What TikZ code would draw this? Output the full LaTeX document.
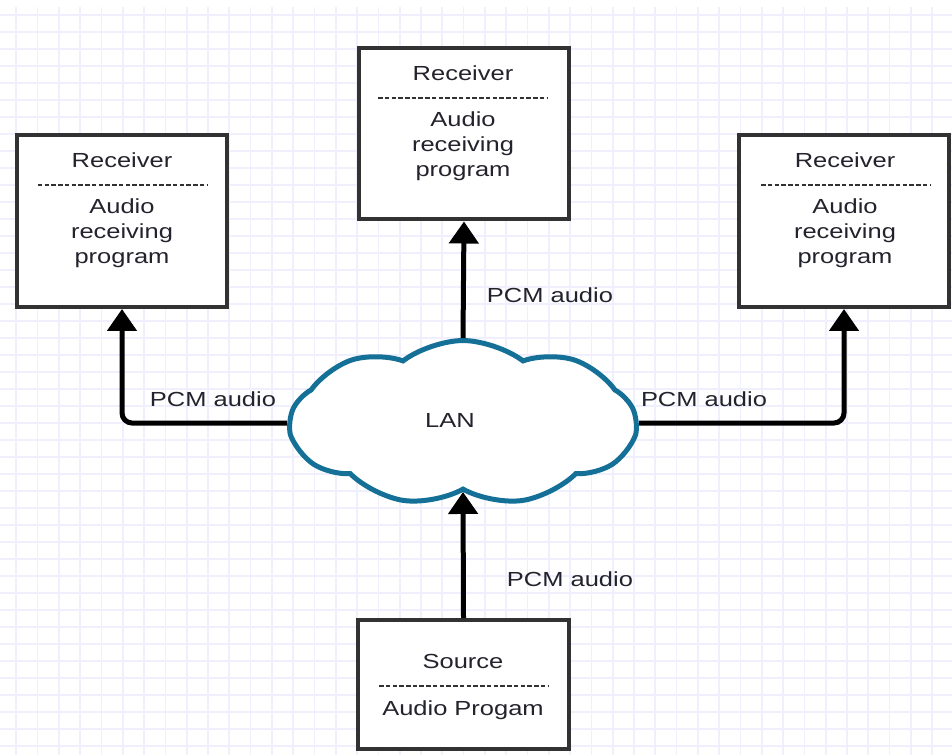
\documentclass[tikz,border=0pt]{standalone}
\usepackage{fontspec}
\setmainfont{Liberation Sans}[FakeStretch=1.25]
\usepackage[dvipsnames,svgnames]{xcolor}
\usepackage[]{tikz}
\usetikzlibrary{positioning}
\usetikzlibrary{arrows.meta}
\usetikzlibrary{shapes.symbols}
\definecolor{gridblue}{RGB}{239,239,253}
\definecolor{lanblue}{RGB}{20,112,150}
\definecolor{boxgray}{RGB}{50,50,50}
\definecolor{txtgray}{RGB}{35,35,45}
\tikzset{gridline/.style={gridblue,line width=0.035cm}}
\tikzset{progbox/.style={draw=boxgray,fill=white,line width=0.08cm,minimum width=4.22cm,minimum height=3.44cm,inner sep=0pt}}
\tikzset{txt/.style={text=txtgray,font=\fontsize{11.6pt}{14.2pt}\selectfont,align=center,inner sep=0pt}}
\tikzset{sepline/.style={boxgray,line width=0.03cm,dash pattern=on 0.09cm off 0.045cm}}
\tikzset{flow/.style={black,line width=0.1cm,rounded corners=0.2cm,-{Triangle[length=0.44cm,width=0.58cm]}}}

\begin{document}
\begin{tikzpicture}[x=0.02cm,y=-0.02cm]
            \useasboundingbox (0,0) rectangle (952,755);
            \fill[white] (0,0) rectangle (952,755);
            % grid paper
            \foreach \i in {0,...,44} \draw[gridline] ({16.3+21.3*\i},7) -- ++(0,748);
            \foreach \j in {0,...,43} \draw[gridline] (0,{15+17*\j}) -- ++(952,0);
            % boxes
            \node[progbox] (left) at (122,221) {};
            \node[progbox] (top) at (464,133.5) {};
            \node[progbox] (right) at (844,221) {};
            \node[progbox,minimum height=2.58cm] (source) at (463.5,684.5) {};
            \node[txt] (leftT) at (122,160) {Receiver};
            \draw[sepline] (38,185) -- (208,185);
            \node[txt] (leftB) at (122,233) {Audio\\receiving\\program};
            \node[txt] (topT) at (463,73) {Receiver};
            \draw[sepline] (378,98) -- (548,98);
            \node[txt] (topB) at (463,146) {Audio\\receiving\\program};
            \node[txt] (rightT) at (845,160) {Receiver};
            \draw[sepline] (761,185) -- (930,185);
            \node[txt] (rightB) at (845,233) {Audio\\receiving\\program};
            \node[txt] (sourceT) at (463,661) {Source};
            \draw[sepline] (379,686) -- (548,686);
            \node[txt] (sourceB) at (463,710) {Audio Progam};
            % network
            \node[cloud,cloud puffs=9,cloud puff arc=75,cloud ignores aspect,draw=lanblue,fill=white,line width=0.1cm,minimum width=6.9cm,minimum height=3.3cm,inner sep=0pt,shape border rotate=10] (lan) at (463,423) {};
            \node[txt] (lanT) at (450,420) {LAN};
            % links
            \draw[flow] (lan.west) -| (left.south);
            \draw[flow] (lan.east) -| (right.south);
            \draw[flow] (lan.north) -- (top.south);
            \draw[flow] (source.north) -- (lan.south);
            \node[txt] (pcmL) at (213,399) {PCM audio};
            \node[txt] (pcmT) at (550,295) {PCM audio};
            \node[txt] (pcmR) at (704,399) {PCM audio};
            \node[txt] (pcmB) at (570,579) {PCM audio};
        \end{tikzpicture}
\end{document}
